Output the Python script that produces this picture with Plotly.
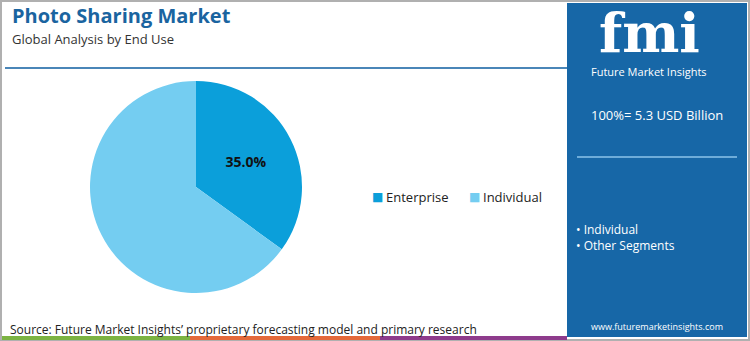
import plotly.graph_objects as go

W, H = 750, 341

categories = ["Enterprise", "Individual"]
shares = [35.0, 65.0]
slice_colors = ["#0b9fda", "#74cdf1"]
shown_labels = ["<b>35.0%</b>", ""]

title_text = "Photo Sharing Market"
subtitle_text = "Global Analysis by End Use"
total_text = "100%= 5.3 USD Billion"
segments = ["Individual", "Other Segments"]
source_text = "Source: Future Market Insights’ proprietary forecasting model and primary research"
site_text = "www.futuremarketinsights.com"

FONT = "Open Sans"

def px(x):
    return x / W

def py(y):
    return 1 - y / H

fig = go.Figure()
fig.add_trace(go.Pie(
    labels=categories,
    values=shares,
    marker=dict(colors=slice_colors, line=dict(width=0)),
    sort=False,
    direction="clockwise",
    rotation=0,
    texttemplate=shown_labels,
    textposition="inside",
    insidetextorientation="horizontal",
    textfont=dict(family=FONT, size=14, color="#111111"),
    hoverinfo="label+percent",
    domain=dict(x=[px(90), px(302)], y=[py(293), py(81)]),
    showlegend=False,
))

shapes = []
# outer border
shapes.append(dict(type="rect", xref="paper", yref="paper", x0=px(1), x1=px(749), y0=py(340), y1=py(1),
                   line=dict(color="#b0b0b0", width=2), fillcolor="rgba(0,0,0,0)", layer="above"))
# right panel
shapes.append(dict(type="rect", xref="paper", yref="paper", x0=px(567), x1=px(747), y0=py(337), y1=py(3),
                   line=dict(width=0), fillcolor="#1767a7", layer="below"))
# divider line under subtitle
shapes.append(dict(type="line", xref="paper", yref="paper", x0=px(5), x1=px(567), y0=py(68), y1=py(68),
                   line=dict(color="#4a86b8", width=2)))
# panel divider
shapes.append(dict(type="line", xref="paper", yref="paper", x0=px(577), x1=px(737), y0=py(157), y1=py(157),
                   line=dict(color="#8cc3ea", width=1.5)))
# bottom color bar
for x0, x1, c in [(2, 190, "#7cb342"), (190, 380, "#e4693a"), (380, 567, "#8e3b8c")]:
    shapes.append(dict(type="rect", xref="paper", yref="paper", x0=px(x0), x1=px(x1), y0=py(340), y1=py(336),
                       line=dict(width=0), fillcolor=c))

annotations = []
def txt(x, y, s, size, color, xanchor="left", bold=False, family=FONT):
    annotations.append(dict(x=px(x), y=py(y), xref="paper", yref="paper", text=(f"<b>{s}</b>" if bold else s),
                            showarrow=False, xanchor=xanchor, yanchor="middle",
                            font=dict(family=family, size=size, color=color)))

txt(10, 16, title_text, 20, "#1a64a0", bold=True)
txt(10, 39, subtitle_text, 13, "#333333")
txt(649, 33, "fmi", 54, "#ffffff", xanchor="center", bold=True, family="DejaVu Serif")
txt(649, 71, "Future Market Insights", 11, "#ffffff", xanchor="center")
txt(657, 115, total_text, 13, "#ffffff", xanchor="center")
for i, s in enumerate(segments):
    txt(574, 229 + 16 * i, "• " + s, 12, "#ffffff")
txt(657, 326, site_text, 9, "#ffffff", xanchor="center")
txt(8, 329, source_text, 12, "#222222")

# legend drawn as colored squares + labels
legend_x = [370, 467]
for lx, name, col in zip(legend_x, categories, slice_colors):
    annotations.append(dict(x=px(lx), y=py(197), xref="paper", yref="paper", text="■", showarrow=False,
                            xanchor="left", yanchor="middle", font=dict(family="DejaVu Sans", size=12, color=col)))
    txt(lx + 14, 197, name, 13, "#222222")

fig.update_layout(
    width=W, height=H,
    margin=dict(l=0, r=0, t=0, b=0),
    paper_bgcolor="#ffffff",
    plot_bgcolor="#ffffff",
    shapes=shapes,
    annotations=annotations,
    showlegend=False,
)

fig.write_html("out.html")
